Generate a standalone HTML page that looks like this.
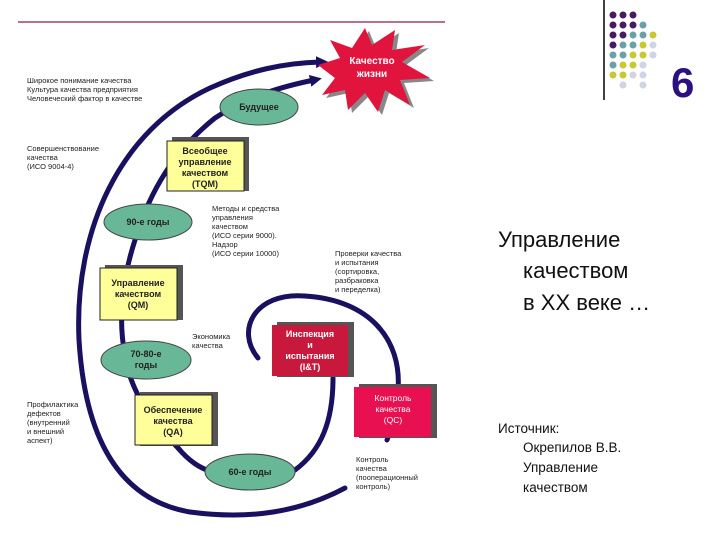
<!DOCTYPE html>
<html><head><meta charset="utf-8"><style>
html,body{margin:0;padding:0;background:#fff;}
svg{display:block;font-family:"Liberation Sans",sans-serif;}
</style></head><body>
<svg width="720" height="540" viewBox="0 0 720 540" xmlns="http://www.w3.org/2000/svg">
<defs>
<marker id="ar" markerWidth="12" markerHeight="12" refX="4" refY="6" orient="auto" markerUnits="userSpaceOnUse">
<path d="M0,0 L12,6 L0,12 z" fill="#1a1060"/></marker>
</defs>
<line x1="18" y1="22" x2="445" y2="22" stroke="#a04068" stroke-width="1.5"/>
<line x1="604" y1="0" x2="604" y2="100" stroke="#000" stroke-width="1.5"/>
<g>
<circle cx="613" cy="15" r="3.5" fill="#4a1a60"/><circle cx="623" cy="15" r="3.5" fill="#4a1a60"/><circle cx="633" cy="15" r="3.5" fill="#4a1a60"/>
<circle cx="613" cy="25" r="3.5" fill="#4a1a60"/><circle cx="623" cy="25" r="3.5" fill="#4a1a60"/><circle cx="633" cy="25" r="3.5" fill="#4a1a60"/><circle cx="643" cy="25" r="3.5" fill="#6aa0a8"/>
<circle cx="613" cy="35" r="3.5" fill="#4a1a60"/><circle cx="623" cy="35" r="3.5" fill="#4a1a60"/><circle cx="633" cy="35" r="3.5" fill="#6aa0a8"/><circle cx="643" cy="35" r="3.5" fill="#6aa0a8"/><circle cx="653" cy="35" r="3.5" fill="#c8c830"/>
<circle cx="613" cy="45" r="3.5" fill="#4a1a60"/><circle cx="623" cy="45" r="3.5" fill="#6aa0a8"/><circle cx="633" cy="45" r="3.5" fill="#6aa0a8"/><circle cx="643" cy="45" r="3.5" fill="#c8c830"/><circle cx="653" cy="45" r="3.5" fill="#d0d4e4"/>
<circle cx="613" cy="55" r="3.5" fill="#6aa0a8"/><circle cx="623" cy="55" r="3.5" fill="#6aa0a8"/><circle cx="633" cy="55" r="3.5" fill="#c8c830"/><circle cx="643" cy="55" r="3.5" fill="#c8c830"/><circle cx="653" cy="55" r="3.5" fill="#d0d4e4"/>
<circle cx="613" cy="65" r="3.5" fill="#6aa0a8"/><circle cx="623" cy="65" r="3.5" fill="#c8c830"/><circle cx="633" cy="65" r="3.5" fill="#c8c830"/><circle cx="643" cy="65" r="3.5" fill="#d0d4e4"/>
<circle cx="613" cy="75" r="3.5" fill="#c8c830"/><circle cx="623" cy="75" r="3.5" fill="#c8c830"/><circle cx="633" cy="75" r="3.5" fill="#d0d4e4"/><circle cx="643" cy="75" r="3.5" fill="#d0d4e4"/>
<circle cx="623" cy="85" r="3.5" fill="#d0d4e4"/><circle cx="643" cy="85" r="3.5" fill="#d0d4e4"/>
</g>
<text x="671" y="97" font-size="42" font-weight="bold" fill="#2a1080">6</text>

<g fill="none" stroke="#1a1060" stroke-width="5" stroke-linecap="round">
<path d="M345,488 C 300,512 250,520 190,512 C 120,500 85,440 79,340 C 74,230 120,130 210,88 C 250,70 285,63 320,62" marker-end="url(#ar)"/>
<path d="M180,450 C 150,420 130,390 125,355 C 118,320 122,280 135,240 C 150,190 175,150 215,118 C 250,95 285,86 314,80" marker-end="url(#ar)"/>
<path d="M258,358 C 235,330 255,292 305,296 C 370,300 402,340 398,390 C 396,410 393,425 387,440"/>
<path d="M295,470 C 322,450 333,420 333,378"/>
<path d="M178,448 C 190,462 200,468 212,472"/>
</g>

<polygon points="365,28 372,45 395,30 392,50 425,45 402,62 430,78 400,80 410,105 385,90 378,112 365,93 348,110 345,90 322,95 335,78 318,65 340,58 330,40 352,48" fill="#888" transform="translate(4,3)"/>
<polygon points="365,28 372,45 395,30 392,50 425,45 402,62 430,78 400,80 410,105 385,90 378,112 365,93 348,110 345,90 322,95 335,78 318,65 340,58 330,40 352,48" fill="#e0143c"/>
<text x="372" y="64" font-size="10" font-weight="bold" fill="#fff" text-anchor="middle">Качество</text>
<text x="372" y="77" font-size="10" font-weight="bold" fill="#fff" text-anchor="middle">жизни</text>

<g stroke="#444" stroke-width="1" fill="#68b898">
<ellipse cx="259" cy="107" rx="39" ry="18"/>
<ellipse cx="148" cy="222" rx="44" ry="18"/>
<ellipse cx="146" cy="360" rx="45" ry="19"/>
<ellipse cx="250" cy="472" rx="45" ry="18"/>
</g>
<g font-size="9" font-weight="bold" fill="#222" text-anchor="middle">
<text x="259" y="110">Будущее</text>
<text x="148" y="225">90-е годы</text>
<text x="146" y="357">70-80-е</text><text x="146" y="368">годы</text>
<text x="250" y="475">60-е годы</text>
</g>

<g fill="#555">
<rect x="172" y="137" width="77" height="54"/>
<rect x="105" y="265" width="78" height="55"/>
<rect x="140" y="392" width="78" height="54"/>
<rect x="277" y="322" width="77" height="55"/>
<rect x="359" y="384" width="78" height="54"/>
</g>
<g stroke="#222" stroke-width="1">
<rect x="167" y="141" width="77" height="50" fill="#ffff99"/>
<rect x="100" y="268" width="77" height="52" fill="#ffff99"/>
<rect x="135" y="395" width="77" height="50" fill="#ffff99"/>
<rect x="272" y="325" width="76" height="51" fill="#c8183c" stroke="none"/>
<rect x="354" y="387" width="77" height="50" fill="#e81050" stroke="none"/>
</g>
<g font-size="9" font-weight="bold" fill="#222" text-anchor="middle">
<text x="205" y="154">Всеобщее</text><text x="205" y="165">управление</text><text x="205" y="176">качеством</text><text x="205" y="187">(TQM)</text>
<text x="138" y="286">Управление</text><text x="138" y="297">качеством</text><text x="138" y="308">(QM)</text>
<text x="173" y="413">Обеспечение</text><text x="173" y="424">качества</text><text x="173" y="435">(QA)</text>
</g>
<g font-size="9" font-weight="bold" fill="#fff" text-anchor="middle">
<text x="310" y="337">Инспекция</text><text x="310" y="348">и</text><text x="310" y="359">испытания</text><text x="310" y="370">(I&amp;T)</text>
</g>
<g font-size="8.5" fill="#fff" text-anchor="middle">
<text x="393" y="401">Контроль</text><text x="393" y="412">качества</text><text x="393" y="423">(QC)</text>
</g>

<g font-size="7.5" fill="#222">
<text x="27" y="83">Широкое понимание качества</text>
<text x="27" y="92">Культура качества предприятия</text>
<text x="27" y="101">Человеческий фактор в качестве</text>
<text x="27" y="151">Совершенствование</text>
<text x="27" y="160">качества</text>
<text x="27" y="169">(ИСО 9004-4)</text>
<text x="212" y="211">Методы и средства</text>
<text x="212" y="220">управления</text>
<text x="212" y="229">качеством</text>
<text x="212" y="238">(ИСО серии 9000).</text>
<text x="212" y="247">Надзор</text>
<text x="212" y="256">(ИСО серии 10000)</text>
<text x="335" y="256">Проверки качества</text>
<text x="335" y="265">и испытания</text>
<text x="335" y="274">(сортировка,</text>
<text x="335" y="283">разбраковка</text>
<text x="335" y="292">и переделка)</text>
<text x="192" y="339">Экономика</text>
<text x="192" y="348">качества</text>
<text x="27" y="407">Профилактика</text>
<text x="27" y="416">дефектов</text>
<text x="27" y="425">(внутренний</text>
<text x="27" y="434">и внешний</text>
<text x="27" y="443">аспект)</text>
<text x="356" y="462">Контроль</text>
<text x="356" y="471">качества</text>
<text x="356" y="480">(пооперационный</text>
<text x="356" y="489">контроль)</text>
</g>

<g font-size="22" fill="#111">
<text x="498" y="247">Управление</text>
<text x="523" y="278">качеством</text>
<text x="523" y="310">в XX веке …</text>
</g>
<g font-size="13.5" fill="#111">
<text x="498" y="433">Источник:</text>
<text x="523" y="452">Окрепилов В.В.</text>
<text x="523" y="472">Управление</text>
<text x="523" y="492">качеством</text>
</g>
</svg>
</body></html>
